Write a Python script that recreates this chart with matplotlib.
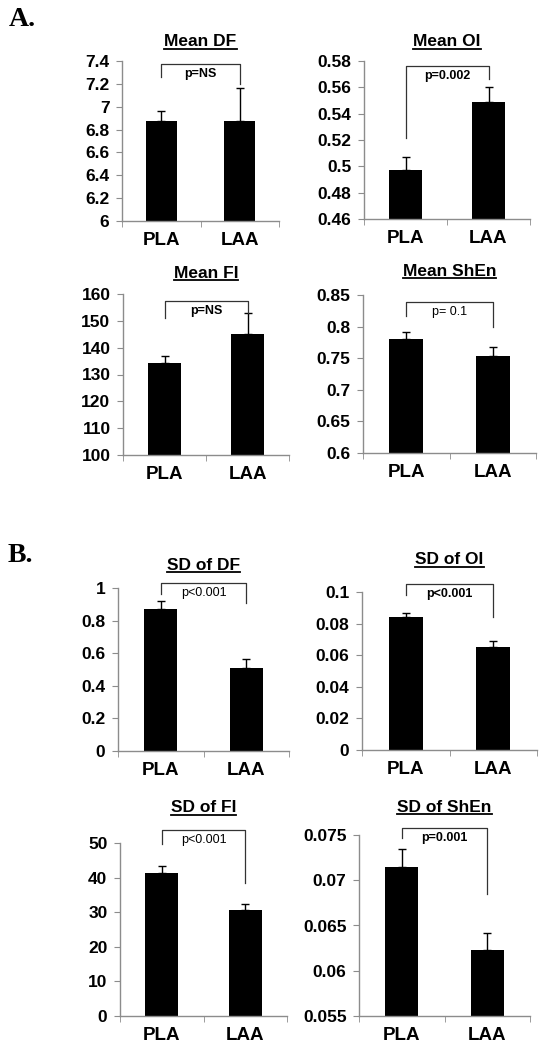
import matplotlib
matplotlib.use("Agg")
from matplotlib import pyplot as plt
from matplotlib.lines import Line2D

plt.rcParams['font.family'] = ['Liberation Sans', 'DejaVu Sans']

groups = ["PLA", "LAA"]

titles = ["Mean DF", "Mean OI", "Mean FI", "Mean ShEn",
          "SD of DF", "SD of OI", "SD of FI", "SD of ShEn"]

means = [
    [6.875, 6.875],
    [0.497, 0.549],
    [134.3, 145.0],
    [0.781, 0.754],
    [0.871, 0.509],
    [0.0842, 0.0653],
    [41.4, 30.5],
    [0.0715, 0.0623],
]

errors = [
    [0.09, 0.285],
    [0.010, 0.011],
    [2.6, 8.0],
    [0.010, 0.013],
    [0.047, 0.054],
    [0.0025, 0.0034],
    [1.9, 2.0],
    [0.0020, 0.0019],
]

y_limits = [(6, 7.4), (0.46, 0.58), (100, 160), (0.6, 0.85),
            (0, 1), (0, 0.1), (0, 50), (0.055, 0.075)]
y_ticks = [
    [6, 6.2, 6.4, 6.6, 6.8, 7, 7.2, 7.4],
    [0.46, 0.48, 0.5, 0.52, 0.54, 0.56, 0.58],
    [100, 110, 120, 130, 140, 150, 160],
    [0.6, 0.65, 0.7, 0.75, 0.8, 0.85],
    [0, 0.2, 0.4, 0.6, 0.8, 1],
    [0, 0.02, 0.04, 0.06, 0.08, 0.1],
    [0, 10, 20, 30, 40, 50],
    [0.055, 0.06, 0.065, 0.07, 0.075],
]
y_labels = [
    ["6", "6.2", "6.4", "6.6", "6.8", "7", "7.2", "7.4"],
    ["0.46", "0.48", "0.5", "0.52", "0.54", "0.56", "0.58"],
    ["100", "110", "120", "130", "140", "150", "160"],
    ["0.6", "0.65", "0.7", "0.75", "0.8", "0.85"],
    ["0", "0.2", "0.4", "0.6", "0.8", "1"],
    ["0", "0.02", "0.04", "0.06", "0.08", "0.1"],
    ["0", "10", "20", "30", "40", "50"],
    ["0.055", "0.06", "0.065", "0.07", "0.075"],
]

# significance brackets: top, left end, right end, text, bold text
p_texts = ["p=NS", "p=0.002", "p=NS", "p= 0.1",
           "p<0.001", "p<0.001", "p<0.001", "p=0.001"]
p_bold = [True, True, True, False, False, True, False, True]
bracket_top = [7.37, 0.576, 157.4, 0.839, 1.029, 0.1049, 53.9, 0.0758]
bracket_left = [7.26, 0.5215, 151.0, 0.817, 0.963, 0.0984, 49.8, 0.0747]
bracket_right = [7.2, 0.5663, 153.0, 0.80, 0.91, 0.0842, 38.5, 0.0685]

# axes rectangles in pixels: left, top, right, bottom
W, H = 544, 1050
boxes = [
    (122, 61, 279, 221), (364, 61, 530, 219),
    (123, 294, 289, 455), (363, 295, 536, 453),
    (118, 588, 289, 751), (362, 592, 537, 750),
    (120, 843, 287, 1016), (359, 835, 530, 1016),
]
title_y = [42, 42, 273, 272, 565, 560, 808, 807]

fig = plt.figure(figsize=(W / 100, H / 100), dpi=100)
axis_grey = "#8c8c8c"
title_texts = []

for i in range(8):
    l, t, r, b = boxes[i]
    ax = fig.add_axes([l / W, 1 - b / H, (r - l) / W, (b - t) / H])
    x = [0, 1]
    ax.bar(x, means[i], width=0.39, color="black", zorder=2)
    ax.errorbar(x, means[i], yerr=[[0, 0], errors[i]], fmt="none",
                ecolor="black", elinewidth=1, capsize=3, capthick=1, zorder=3)
    ax.set_xlim(-0.5, 1.5)
    ax.set_ylim(*y_limits[i])
    ax.set_yticks(y_ticks[i])
    ax.set_yticklabels(y_labels[i], fontsize=12.5, fontweight="bold")
    ax.set_xticks(x)
    ax.set_xticklabels(groups, fontsize=13.5, fontweight="bold")
    ax.set_xticks([-0.5, 0.5, 1.5], minor=True)
    ax.tick_params(axis="x", which="major", length=0, pad=8)
    ax.tick_params(axis="x", which="minor", length=4, color=axis_grey, direction="out")
    ax.tick_params(axis="y", length=4, color=axis_grey, direction="out", pad=5)
    for side in ["top", "right"]:
        ax.spines[side].set_visible(False)
    for side in ["left", "bottom"]:
        ax.spines[side].set_color(axis_grey)
        ax.spines[side].set_linewidth(1)

    # bracket
    ax.plot([0, 0, 1, 1], [bracket_left[i], bracket_top[i], bracket_top[i], bracket_right[i]],
            color="#333333", linewidth=0.9, clip_on=False, zorder=4)
    ax.text(0.5, bracket_top[i] - (y_limits[i][1] - y_limits[i][0]) * 0.025, p_texts[i],
            ha="center", va="top", fontsize=9,
            fontweight="bold" if p_bold[i] else "normal")

    cx = (l + r) / 2 + 0
    tt = fig.text(cx / W, 1 - title_y[i] / H, titles[i], ha="center", va="center",
                  fontsize=12.5, fontweight="bold")
    title_texts.append(tt)

fig.text(9 / W, 1 - 19 / H, "A.", fontsize=20, fontweight="bold",
         family=["Liberation Serif", "DejaVu Serif"], va="center", ha="left")
fig.text(8 / W, 1 - 556 / H, "B.", fontsize=20, fontweight="bold",
         family=["Liberation Serif", "DejaVu Serif"], va="center", ha="left")

# underline titles
fig.canvas.draw()
renderer = fig.canvas.get_renderer()
for tt in title_texts:
    bb = tt.get_window_extent(renderer)
    y0 = bb.y0 + 1
    fig.add_artist(Line2D([bb.x0 / W, bb.x1 / W], [y0 / H, y0 / H],
                          transform=fig.transFigure, color="black", linewidth=1.3))

fig.savefig("out.png", dpi=100)
